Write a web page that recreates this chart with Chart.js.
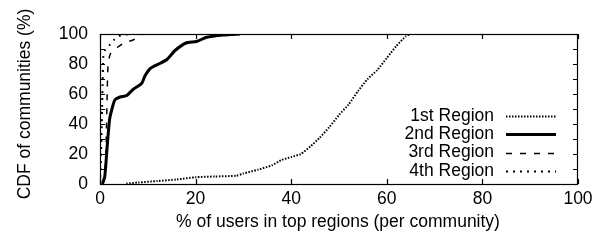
<!DOCTYPE html>
<html lang="en">
<head>
  <meta charset="UTF-8" />
  <title>CDF of communities</title>
  <script src="https://cdn.jsdelivr.net/npm/chart.js"></script>
  <style>
    body { margin: 0; background: #fff; }
    #wrap { width: 608px; height: 242px; }
  </style>
</head>
<body>
  <div id="wrap"><canvas id="cdfChart" width="608" height="242"></canvas></div>
  <script>
    // values: % of users in top region (x) vs CDF (y)
    const r1x = [5.5, 8, 12, 16, 20, 24, 28.5, 30, 33, 36, 38, 40, 42, 44, 46, 48, 50, 52, 54, 56, 58, 60, 62, 64, 65, 66];
    const r1y = [0.3, 1, 2, 3, 4.5, 5, 5.5, 7, 9.5, 12.5, 16, 18, 20, 25, 31, 38, 46, 53, 62, 70, 76, 84, 92, 98.5, 100, 100];

    const r2x = [0.5, 1, 1.5, 2, 2.5, 3.1, 4.2, 5.6, 6.9, 8.7, 9.4, 10.5, 12.6, 14, 15.7, 18, 20.2, 22.3, 25.8, 29.3];
    const r2y = [0, 5, 25, 43, 50, 56, 58, 59, 63, 67, 72, 77, 80.5, 83, 89, 94, 95, 97.8, 99.3, 100];

    const r3x = [0.5, 1, 1.3, 1.5, 1.7, 2.2, 3.6, 5, 6.9, 9];
    const r3y = [0, 5, 30, 60, 80, 87, 91, 94, 96, 100];

    const r4x = [0, 0.3, 0.5, 0.7, 1, 2.1, 2.9, 4, 6];
    const r4y = [0, 30, 60, 85, 89, 93, 96, 98.7, 100];

    const labels = ['1st Region', '2nd Region', '3rd Region', '4th Region'];
    const xTicks = [0, 20, 40, 60, 80, 100];
    const yTicks = [0, 20, 40, 60, 80, 100];
    const yMinor = [10, 30, 50, 70, 90];

    const FAMILY = '"Liberation Sans", Arial, sans-serif';
    const SIZE = 17.5;
    const FONT = SIZE + 'px ' + FAMILY;

    function pts(xs, ys) {
      return xs.map((x, i) => ({ x: x, y: ys[i] }));
    }

    const styles = [
      { borderWidth: 2, borderDash: [1.5, 1.5] },
      { borderWidth: 3, borderDash: [] },
      { borderWidth: 1.5, borderDash: [6, 8] },
      { borderWidth: 2, borderDash: [2, 5] }
    ];

    const series = [pts(r1x, r1y), pts(r2x, r2y), pts(r3x, r3y), pts(r4x, r4y)];

    // frame, inward ticks, axis titles and the gnuplot-like legend
    const gnuplotLook = {
      id: 'gnuplotLook',
      afterDraw(chart) {
        const ctx = chart.ctx;
        const a = chart.chartArea;
        const xs = chart.scales.x, ys = chart.scales.y;
        ctx.save();
        ctx.strokeStyle = '#000';
        ctx.lineWidth = 1.2;
        ctx.setLineDash([]);
        ctx.strokeRect(a.left + 0.5, a.top + 0.5, a.right - a.left - 1, a.bottom - a.top);
        const t = 5;
        ctx.beginPath();
        xTicks.forEach(v => {
          const px = Math.round(xs.getPixelForValue(v)) + 0.5;
          ctx.moveTo(px, a.bottom); ctx.lineTo(px, a.bottom - t);
          ctx.moveTo(px, a.top); ctx.lineTo(px, a.top + t);
        });
        yTicks.concat(yMinor).forEach(v => {
          const py = Math.round(ys.getPixelForValue(v)) + 0.5;
          ctx.moveTo(a.left, py); ctx.lineTo(a.left + t, py);
          ctx.moveTo(a.right, py); ctx.lineTo(a.right - t, py);
        });
        ctx.stroke();

        ctx.fillStyle = '#000';
        ctx.font = FONT;
        ctx.textAlign = 'center';
        ctx.textBaseline = 'middle';
        ctx.fillText('% of users in top regions (per community)', (a.left + a.right) / 2 - 1, 222);
        ctx.save();
        ctx.translate(25, 104);
        ctx.rotate(-Math.PI / 2);
        ctx.fillText('CDF of communities (%)', 0, 0);
        ctx.restore();

        // legend
        ctx.textAlign = 'right';
        labels.forEach((lab, i) => {
          const y = 116 + i * 18.3;
          ctx.fillStyle = '#000';
          ctx.fillText(lab, 494, y);
          ctx.beginPath();
          ctx.lineWidth = styles[i].borderWidth;
          ctx.setLineDash(styles[i].borderDash);
          ctx.moveTo(506, Math.round(y) + 0.5);
          ctx.lineTo(556, Math.round(y) + 0.5);
          ctx.stroke();
        });
        ctx.restore();
      }
    };

    new Chart(document.getElementById('cdfChart').getContext('2d'), {
      type: 'line',
      data: {
        datasets: series.map((d, i) => ({
          label: labels[i],
          data: d,
          borderColor: '#000',
          borderWidth: styles[i].borderWidth,
          borderDash: styles[i].borderDash,
          pointRadius: 0,
          fill: false,
          tension: 0.2
        }))
      },
      options: {
        responsive: false,
        animation: false,
        layout: { padding: { left: 0, top: 34, right: 30, bottom: 0 } },
        plugins: { legend: { display: false }, tooltip: { enabled: false } },
        scales: {
          x: {
            type: 'linear', min: 0, max: 100,
            grid: { display: false, drawTicks: false },
            border: { display: false },
            afterFit(s) { s.height = 58; },
            afterBuildTicks(s) { s.ticks = xTicks.map(v => ({ value: v })); },
            ticks: { color: '#000', font: { family: FAMILY, size: SIZE }, padding: 5, maxRotation: 0 }
          },
          y: {
            min: 0, max: 100,
            grid: { display: false, drawTicks: false },
            border: { display: false },
            afterFit(s) { s.width = 100; },
            afterBuildTicks(s) { s.ticks = yTicks.map(v => ({ value: v })); },
            ticks: { color: '#000', font: { family: FAMILY, size: SIZE }, padding: 12 }
          }
        }
      },
      plugins: [gnuplotLook]
    });
  </script>
</body>
</html>
